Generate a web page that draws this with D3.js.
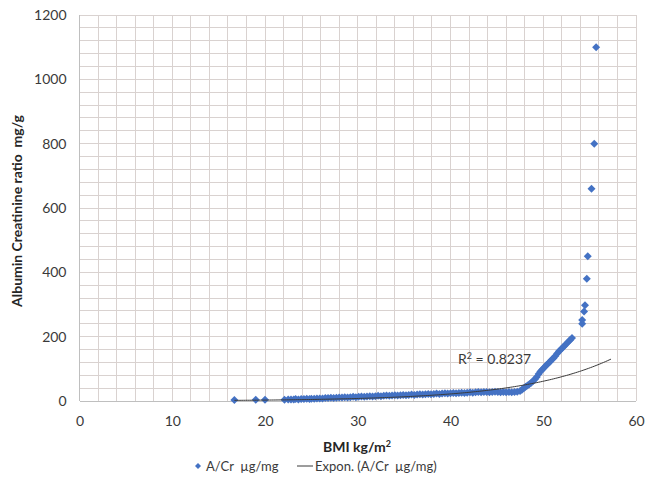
<!DOCTYPE html>
<html>
<head>
<meta charset="utf-8">
<script src="https://cdn.jsdelivr.net/npm/d3@7"></script>
<style>
  html, body { margin: 0; padding: 0; background: #fff; }
  svg { display: block; font-family: "Lato", "Open Sans", sans-serif; }
  text { white-space: pre; }
</style>
</head>
<body>
<svg id="chart" width="648" height="492"></svg>
<script>
// ---- data ----
const bmi = [16.7, 19.0, 20.0,
  22.1, 22.5, 22.8, 23.1, 23.3, 23.6, 23.9, 24.2, 24.5, 24.8, 25.0, 25.3, 25.6, 25.9, 26.2, 26.5, 26.8,
  27.1, 27.4, 27.7, 28.0, 28.3, 28.6, 28.9, 29.2, 29.5, 29.8, 30.1, 30.4, 30.7, 31.0, 31.3, 31.6, 31.9,
  32.2, 32.5, 32.8, 33.1, 33.4, 33.7, 34.0, 34.3, 34.6, 34.9, 35.2, 35.5, 35.8, 36.1, 36.4, 36.7, 37.0,
  37.3, 37.6, 37.9, 38.2, 38.5, 38.8, 39.1, 39.4, 39.7, 40.0, 40.3, 40.6, 40.9, 41.2, 41.5, 41.8, 42.1,
  42.4, 42.7, 43.0, 43.3, 43.6, 43.9, 44.2, 44.5, 44.8, 45.1, 45.4, 45.7, 46.0, 46.3, 46.6, 46.9, 47.2, 47.5,
  47.7, 47.9, 48.1, 48.3, 48.5, 48.7, 48.9, 49.1, 49.3, 49.5, 49.7, 49.9, 50.1, 50.3, 50.5, 50.7, 50.9,
  51.1, 51.3, 51.5, 51.7, 51.9, 52.1, 52.3, 52.5, 52.7, 52.9, 53.1,
  54.2, 54.2, 54.4, 54.5, 54.7, 54.8, 55.2, 55.5, 55.7];
const acr = [3, 4, 4,
  4, 5, 5, 5, 6, 5, 6, 6, 7, 6, 7, 7, 8, 8, 8, 9, 9,
  10, 9, 10, 11, 11, 12, 11, 12, 13, 12, 13, 14, 13, 14, 15, 14, 15,
  16, 15, 16, 17, 16, 17, 18, 17, 18, 19, 18, 19, 20, 19, 20, 21, 20,
  21, 22, 21, 22, 23, 22, 23, 24, 23, 24, 25, 24, 25, 26, 25, 26, 27,
  26, 27, 28, 27, 28, 28, 27, 28, 29, 28, 27, 28, 27, 28, 27, 28, 29, 31,
  35, 40, 44, 48, 52, 57, 62, 68, 75, 84, 92, 98, 104, 110, 116, 121, 128,
  133, 140, 148, 155, 160, 166, 172, 178, 184, 190, 196,
  240, 252, 278, 298, 380, 450, 660, 800, 1100];
// Exponential trendline: y = a * e^(b x), drawn between these x ends
const trendA = 0.36;
const trendB = 0.1028;
const trendX = [16.7, 57.3];
const xTicks = [0, 10, 20, 30, 40, 50, 60];
const yTicks = [0, 200, 400, 600, 800, 1000, 1200];
const seriesName = "A/Cr  \u00B5g/mg";
const trendName = "Expon. (A/Cr  \u00B5g/mg)";

// ---- layout ----
const svg = d3.select("#chart");
const L = 79.5, R = 636, T = 15, B = 401;
const x = d3.scaleLinear().domain([0, 60]).range([L, R]);
const y = d3.scaleLinear().domain([0, 1200]).range([B, T]);
const textCol = "#3a3a3a";

// grid
const grid = svg.append("g");
grid.selectAll("line.vx").data(d3.range(0, 61, 2)).join("line")
  .attr("x1", d => x(d)).attr("x2", d => x(d)).attr("y1", T).attr("y2", B)
  .attr("stroke", "#d9d2d0").attr("stroke-width", 1).attr("shape-rendering", "crispEdges");
grid.selectAll("line.hy").data(d3.range(0, 1201, 40)).join("line")
  .attr("x1", L).attr("x2", R).attr("y1", d => y(d)).attr("y2", d => y(d))
  .attr("stroke", "#d9d2d0").attr("stroke-width", 1).attr("shape-rendering", "crispEdges");

// axes lines
svg.append("line").attr("x1", L).attr("x2", L).attr("y1", T).attr("y2", B)
  .attr("stroke", "#bfbfbf").attr("shape-rendering", "crispEdges");
svg.append("line").attr("x1", L).attr("x2", R).attr("y1", B).attr("y2", B)
  .attr("stroke", "#bfbfbf").attr("shape-rendering", "crispEdges");

// axes via d3
const xAxis = svg.append("g").attr("transform", `translate(0,${B})`)
  .call(d3.axisBottom(x).tickValues(xTicks).tickFormat(d3.format("d")).tickSize(0).tickPadding(15));
const yAxis = svg.append("g").attr("transform", `translate(${L},0)`)
  .call(d3.axisLeft(y).tickValues(yTicks).tickFormat(d3.format("d")).tickSize(0).tickPadding(13));
[xAxis, yAxis].forEach(a => {
  a.select(".domain").remove();
  a.selectAll("text").attr("fill", textCol).style("font-size", "14px")
    .style("font-family", "Lato, 'Open Sans', sans-serif");
});

// axis titles
svg.append("text").attr("x", 357).attr("y", 452).attr("text-anchor", "middle")
  .attr("fill", "#262626").style("font-size", "14px").style("font-weight", "bold")
  .html('BMI kg/m<tspan dy="-5" font-size="9px">2</tspan>');
svg.append("text").attr("transform", "translate(22,211) rotate(-90)").attr("text-anchor", "middle")
  .attr("fill", "#262626").style("font-size", "14px").style("font-weight", "bold")
  .text("Albumin Creatinine ratio  mg/g");

// trendline
const trendPts = d3.range(trendX[0], trendX[1] + 0.001, 0.2).map(v => [v, trendA * Math.exp(trendB * v)]);
const line = d3.line().x(d => x(d[0])).y(d => y(d[1])).curve(d3.curveMonotoneX);

// points
const diamond = d3.symbol().type(d3.symbolSquare).size(32);
const pts = bmi.map((v, i) => [v, acr[i]]);
svg.append("g").selectAll("path").data(pts).join("path")
  .attr("d", diamond)
  .attr("transform", d => `translate(${x(d[0])},${y(d[1])}) rotate(45)`)
  .attr("fill", "#4472c4");

svg.append("path").datum(trendPts).attr("d", line)
  .attr("fill", "none").attr("stroke", "#3a3a3a").attr("stroke-width", 1);

// R² label
svg.append("text").attr("x", 458).attr("y", 364).attr("fill", textCol)
  .style("font-size", "14px").html('R<tspan dy="-5" font-size="9px">2</tspan><tspan dy="5"> = 0.8237</tspan>');

// legend
const lg = svg.append("g");
lg.append("path").attr("d", d3.symbol().type(d3.symbolSquare).size(18))
  .attr("transform", "translate(198,466) rotate(45)").attr("fill", "#4472c4");
lg.append("text").attr("x", 206).attr("y", 471).attr("fill", textCol).style("font-size", "13px").text(seriesName);
lg.append("line").attr("x1", 297).attr("x2", 313).attr("y1", 466).attr("y2", 466)
  .attr("stroke", "#3a3a3a").attr("stroke-width", 1);
lg.append("text").attr("x", 315).attr("y", 471).attr("fill", textCol).style("font-size", "13px").text(trendName);
</script>
</body>
</html>
